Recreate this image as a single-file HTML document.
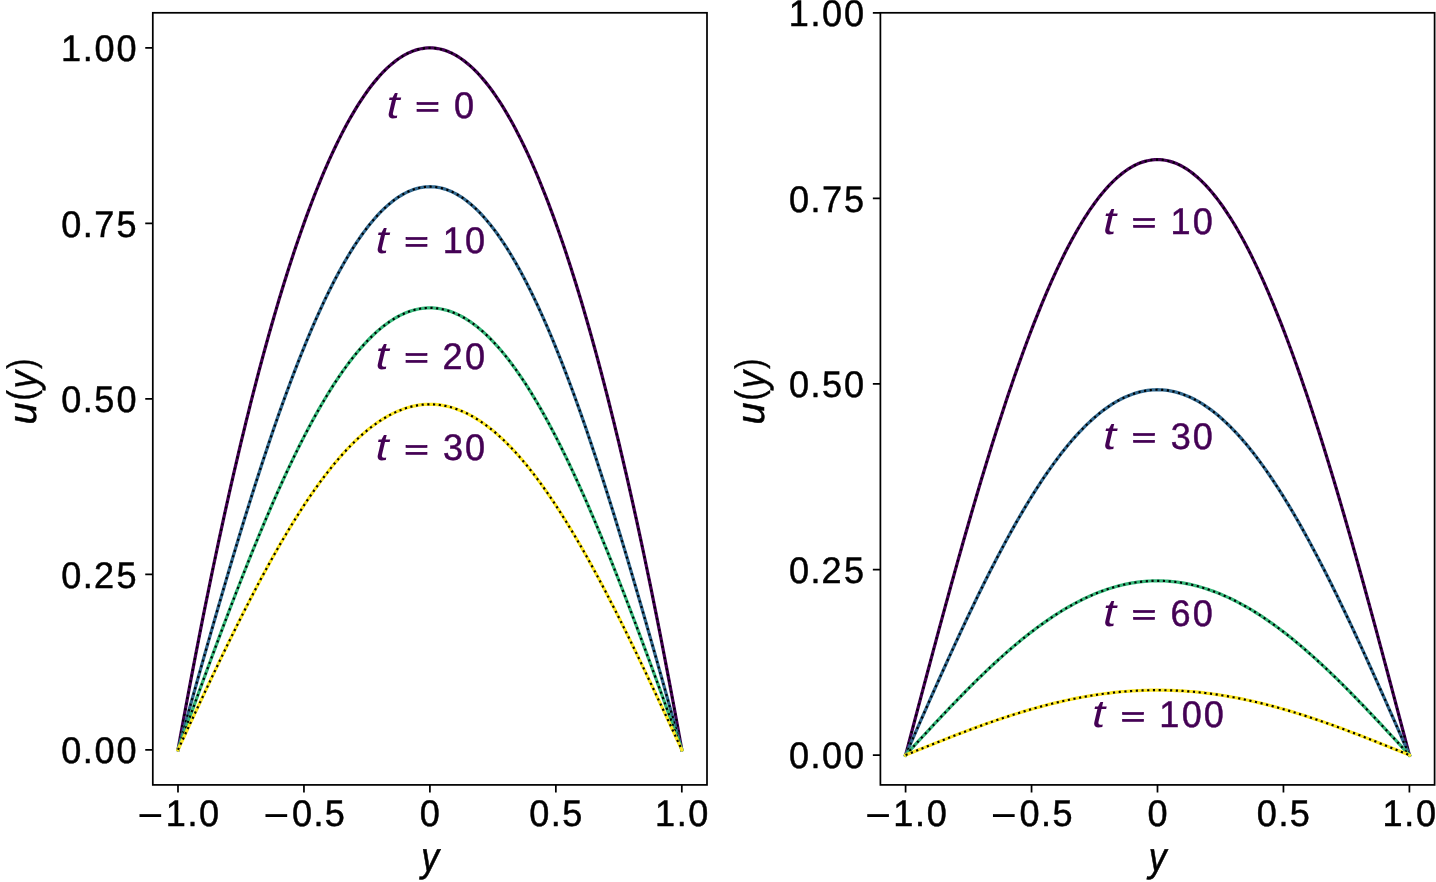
<!DOCTYPE html>
<html><head><meta charset="utf-8"><title>u(y) profiles</title>
<style>html,body{margin:0;padding:0;background:#fff;}svg{display:block;will-change:transform;}text{font-family:"Liberation Sans",sans-serif;}</style>
</head><body>
<svg width="1436" height="882" viewBox="0 0 1436 882">
<rect width="1436" height="882" fill="#fff"/>
<defs><clipPath id="c0"><rect x="152.8" y="12.8" width="554.2" height="772.1"/></clipPath><path id="p0_0" d="M177.99 749.8 180.51 735.84 183.03 722.01 185.55 708.32 188.07 694.77 190.59 681.37 193.11 668.1 195.62 654.98 198.14 641.99 200.66 629.15 203.18 616.44 205.7 603.88 208.22 591.45 210.74 579.17 213.26 567.03 215.78 555.02 218.3 543.16 220.82 531.44 223.33 519.86 225.85 508.42 228.37 497.12 230.89 485.96 233.41 474.94 235.93 464.06 238.45 453.32 240.97 442.72 243.49 432.26 246.01 421.94 248.53 411.77 251.04 401.73 253.56 391.83 256.08 382.07 258.6 372.46 261.12 362.98 263.64 353.65 266.16 344.45 268.68 335.4 271.2 326.48 273.72 317.71 276.24 309.08 278.75 300.58 281.27 292.23 283.79 284.02 286.31 275.95 288.83 268.01 291.35 260.22 293.87 252.57 296.39 245.06 298.91 237.69 301.43 230.46 303.95 223.37 306.46 216.42 308.98 209.62 311.5 202.95 314.02 196.42 316.54 190.03 319.06 183.79 321.58 177.68 324.1 171.71 326.62 165.89 329.14 160.2 331.66 154.66 334.17 149.25 336.69 143.99 339.21 138.86 341.73 133.88 344.25 129.04 346.77 124.33 349.29 119.77 351.81 115.35 354.33 111.07 356.85 106.93 359.37 102.93 361.88 99.06 364.4 95.34 366.92 91.76 369.44 88.33 371.96 85.03 374.48 81.87 377 78.85 379.52 75.97 382.04 73.23 384.56 70.64 387.08 68.18 389.59 65.86 392.11 63.69 394.63 61.65 397.15 59.76 399.67 58 402.19 56.39 404.71 54.91 407.23 53.58 409.75 52.39 412.27 51.33 414.79 50.42 417.3 49.65 419.82 49.02 422.34 48.53 424.86 48.18 427.38 47.97 429.9 47.9 432.42 47.97 434.94 48.18 437.46 48.53 439.98 49.02 442.5 49.65 445.01 50.42 447.53 51.33 450.05 52.39 452.57 53.58 455.09 54.91 457.61 56.39 460.13 58 462.65 59.76 465.17 61.65 467.69 63.69 470.21 65.86 472.72 68.18 475.24 70.64 477.76 73.23 480.28 75.97 482.8 78.85 485.32 81.87 487.84 85.03 490.36 88.33 492.88 91.76 495.4 95.34 497.92 99.06 500.43 102.93 502.95 106.93 505.47 111.07 507.99 115.35 510.51 119.77 513.03 124.33 515.55 129.04 518.07 133.88 520.59 138.86 523.11 143.99 525.63 149.25 528.14 154.66 530.66 160.2 533.18 165.89 535.7 171.71 538.22 177.68 540.74 183.79 543.26 190.03 545.78 196.42 548.3 202.95 550.82 209.62 553.34 216.42 555.85 223.37 558.37 230.46 560.89 237.69 563.41 245.06 565.93 252.57 568.45 260.22 570.97 268.01 573.49 275.95 576.01 284.02 578.53 292.23 581.05 300.58 583.56 309.08 586.08 317.71 588.6 326.48 591.12 335.4 593.64 344.45 596.16 353.65 598.68 362.98 601.2 372.46 603.72 382.07 606.24 391.83 608.76 401.73 611.27 411.77 613.79 421.94 616.31 432.26 618.83 442.72 621.35 453.32 623.87 464.06 626.39 474.94 628.91 485.96 631.43 497.12 633.95 508.42 636.47 519.86 638.98 531.44 641.5 543.16 644.02 555.02 646.54 567.03 649.06 579.17 651.58 591.45 654.1 603.88 656.62 616.44 659.14 629.15 661.66 641.99 664.18 654.98 666.69 668.1 669.21 681.37 671.73 694.77 674.25 708.32 676.77 722.01 679.29 735.84 681.81 749.8"/><path id="p0_1" d="M177.99 749.8 180.51 740.78 183.03 731.75 185.55 722.73 188.07 713.72 190.59 704.71 193.11 695.72 195.62 686.74 198.14 677.79 200.66 668.85 203.18 659.93 205.7 651.04 208.22 642.17 210.74 633.34 213.26 624.54 215.78 615.77 218.3 607.04 220.82 598.35 223.33 589.7 225.85 581.09 228.37 572.53 230.89 564.02 233.41 555.56 235.93 547.15 238.45 538.8 240.97 530.5 243.49 522.26 246.01 514.09 248.53 505.98 251.04 497.93 253.56 489.96 256.08 482.05 258.6 474.21 261.12 466.45 263.64 458.77 266.16 451.16 268.68 443.63 271.2 436.18 273.72 428.82 276.24 421.54 278.75 414.34 281.27 407.24 283.79 400.22 286.31 393.3 288.83 386.47 291.35 379.73 293.87 373.09 296.39 366.55 298.91 360.11 301.43 353.77 303.95 347.53 306.46 341.39 308.98 335.36 311.5 329.43 314.02 323.61 316.54 317.9 319.06 312.3 321.58 306.8 324.1 301.43 326.62 296.16 329.14 291.01 331.66 285.97 334.17 281.05 336.69 276.24 339.21 271.55 341.73 266.99 344.25 262.54 346.77 258.21 349.29 254 351.81 249.91 354.33 245.95 356.85 242.11 359.37 238.4 361.88 234.8 364.4 231.34 366.92 228 369.44 224.79 371.96 221.7 374.48 218.74 377 215.91 379.52 213.21 382.04 210.64 384.56 208.19 387.08 205.88 389.59 203.7 392.11 201.64 394.63 199.72 397.15 197.93 399.67 196.27 402.19 194.75 404.71 193.35 407.23 192.09 409.75 190.96 412.27 189.96 414.79 189.09 417.3 188.36 419.82 187.76 422.34 187.3 424.86 186.96 427.38 186.76 429.9 186.7 432.42 186.76 434.94 186.96 437.46 187.3 439.98 187.76 442.5 188.36 445.01 189.09 447.53 189.96 450.05 190.96 452.57 192.09 455.09 193.35 457.61 194.75 460.13 196.27 462.65 197.93 465.17 199.72 467.69 201.64 470.21 203.7 472.72 205.88 475.24 208.19 477.76 210.64 480.28 213.21 482.8 215.91 485.32 218.74 487.84 221.7 490.36 224.79 492.88 228 495.4 231.34 497.92 234.8 500.43 238.4 502.95 242.11 505.47 245.95 507.99 249.91 510.51 254 513.03 258.21 515.55 262.54 518.07 266.99 520.59 271.55 523.11 276.24 525.63 281.05 528.14 285.97 530.66 291.01 533.18 296.16 535.7 301.43 538.22 306.8 540.74 312.3 543.26 317.9 545.78 323.61 548.3 329.43 550.82 335.36 553.34 341.39 555.85 347.53 558.37 353.77 560.89 360.11 563.41 366.55 565.93 373.09 568.45 379.73 570.97 386.47 573.49 393.3 576.01 400.22 578.53 407.24 581.05 414.34 583.56 421.54 586.08 428.82 588.6 436.18 591.12 443.63 593.64 451.16 596.16 458.77 598.68 466.45 601.2 474.21 603.72 482.05 606.24 489.96 608.76 497.93 611.27 505.98 613.79 514.09 616.31 522.26 618.83 530.5 621.35 538.8 623.87 547.15 626.39 555.56 628.91 564.02 631.43 572.53 633.95 581.09 636.47 589.7 638.98 598.35 641.5 607.04 644.02 615.77 646.54 624.54 649.06 633.34 651.58 642.17 654.1 651.04 656.62 659.93 659.14 668.85 661.66 677.79 664.18 686.74 666.69 695.72 669.21 704.71 671.73 713.72 674.25 722.73 676.77 731.75 679.29 740.78 681.81 749.8"/><path id="p0_2" d="M177.99 749.8 180.51 742.84 183.03 735.88 185.55 728.93 188.07 721.98 190.59 715.03 193.11 708.1 195.62 701.17 198.14 694.26 200.66 687.36 203.18 680.48 205.7 673.61 208.22 666.77 210.74 659.94 213.26 653.14 215.78 646.36 218.3 639.61 220.82 632.88 223.33 626.18 225.85 619.52 228.37 612.89 230.89 606.29 233.41 599.73 235.93 593.2 238.45 586.72 240.97 580.27 243.49 573.87 246.01 567.51 248.53 561.2 251.04 554.93 253.56 548.72 256.08 542.55 258.6 536.43 261.12 530.37 263.64 524.37 266.16 518.42 268.68 512.52 271.2 506.69 273.72 500.92 276.24 495.2 278.75 489.56 281.27 483.97 283.79 478.46 286.31 473.01 288.83 467.63 291.35 462.32 293.87 457.08 296.39 451.91 298.91 446.82 301.43 441.81 303.95 436.86 306.46 432 308.98 427.22 311.5 422.51 314.02 417.89 316.54 413.35 319.06 408.89 321.58 404.52 324.1 400.23 326.62 396.03 329.14 391.92 331.66 387.9 334.17 383.96 336.69 380.12 339.21 376.36 341.73 372.7 344.25 369.13 346.77 365.66 349.29 362.28 351.81 359 354.33 355.81 356.85 352.72 359.37 349.73 361.88 346.83 364.4 344.04 366.92 341.34 369.44 338.75 371.96 336.25 374.48 333.86 377 331.57 379.52 329.39 382.04 327.3 384.56 325.33 387.08 323.45 389.59 321.68 392.11 320.02 394.63 318.46 397.15 317 399.67 315.66 402.19 314.42 404.71 313.28 407.23 312.26 409.75 311.34 412.27 310.53 414.79 309.82 417.3 309.23 419.82 308.74 422.34 308.36 424.86 308.09 427.38 307.93 429.9 307.87 432.42 307.93 434.94 308.09 437.46 308.36 439.98 308.74 442.5 309.23 445.01 309.82 447.53 310.53 450.05 311.34 452.57 312.26 455.09 313.28 457.61 314.42 460.13 315.66 462.65 317 465.17 318.46 467.69 320.02 470.21 321.68 472.72 323.45 475.24 325.33 477.76 327.3 480.28 329.39 482.8 331.57 485.32 333.86 487.84 336.25 490.36 338.75 492.88 341.34 495.4 344.04 497.92 346.83 500.43 349.73 502.95 352.72 505.47 355.81 507.99 359 510.51 362.28 513.03 365.66 515.55 369.13 518.07 372.7 520.59 376.36 523.11 380.12 525.63 383.96 528.14 387.9 530.66 391.92 533.18 396.03 535.7 400.23 538.22 404.52 540.74 408.89 543.26 413.35 545.78 417.89 548.3 422.51 550.82 427.22 553.34 432 555.85 436.86 558.37 441.81 560.89 446.82 563.41 451.91 565.93 457.08 568.45 462.32 570.97 467.63 573.49 473.01 576.01 478.46 578.53 483.97 581.05 489.56 583.56 495.2 586.08 500.92 588.6 506.69 591.12 512.52 593.64 518.42 596.16 524.37 598.68 530.37 601.2 536.43 603.72 542.55 606.24 548.72 608.76 554.93 611.27 561.2 613.79 567.51 616.31 573.87 618.83 580.27 621.35 586.72 623.87 593.2 626.39 599.73 628.91 606.29 631.43 612.89 633.95 619.52 636.47 626.18 638.98 632.88 641.5 639.61 644.02 646.36 646.54 653.14 649.06 659.94 651.58 666.77 654.1 673.61 656.62 680.48 659.14 687.36 661.66 694.26 664.18 701.17 666.69 708.1 669.21 715.03 671.73 721.98 674.25 728.93 676.77 735.88 679.29 742.84 681.81 749.8"/><path id="p0_3" d="M177.99 749.8 180.51 744.38 183.03 738.95 185.55 733.52 188.07 728.1 190.59 722.69 193.11 717.28 195.62 711.88 198.14 706.48 200.66 701.1 203.18 695.73 205.7 690.38 208.22 685.04 210.74 679.71 213.26 674.4 215.78 669.12 218.3 663.85 220.82 658.6 223.33 653.37 225.85 648.17 228.37 643 230.89 637.85 233.41 632.73 235.93 627.63 238.45 622.57 240.97 617.54 243.49 612.54 246.01 607.57 248.53 602.64 251.04 597.75 253.56 592.9 256.08 588.08 258.6 583.3 261.12 578.57 263.64 573.87 266.16 569.22 268.68 564.62 271.2 560.06 273.72 555.54 276.24 551.08 278.75 546.66 281.27 542.3 283.79 537.98 286.31 533.72 288.83 529.51 291.35 525.36 293.87 521.26 296.39 517.22 298.91 513.23 301.43 509.31 303.95 505.44 306.46 501.63 308.98 497.89 311.5 494.21 314.02 490.59 316.54 487.03 319.06 483.54 321.58 480.11 324.1 476.75 326.62 473.46 329.14 470.24 331.66 467.09 334.17 464 336.69 460.99 339.21 458.04 341.73 455.17 344.25 452.38 346.77 449.65 349.29 447 351.81 444.43 354.33 441.92 356.85 439.5 359.37 437.15 361.88 434.88 364.4 432.69 366.92 430.57 369.44 428.54 371.96 426.58 374.48 424.7 377 422.91 379.52 421.19 382.04 419.55 384.56 418 387.08 416.53 389.59 415.14 392.11 413.83 394.63 412.61 397.15 411.46 399.67 410.41 402.19 409.43 404.71 408.54 407.23 407.74 409.75 407.01 412.27 406.38 414.79 405.82 417.3 405.36 419.82 404.97 422.34 404.67 424.86 404.46 427.38 404.33 429.9 404.29 432.42 404.33 434.94 404.46 437.46 404.67 439.98 404.97 442.5 405.36 445.01 405.82 447.53 406.38 450.05 407.01 452.57 407.74 455.09 408.54 457.61 409.43 460.13 410.41 462.65 411.46 465.17 412.61 467.69 413.83 470.21 415.14 472.72 416.53 475.24 418 477.76 419.55 480.28 421.19 482.8 422.91 485.32 424.7 487.84 426.58 490.36 428.54 492.88 430.57 495.4 432.69 497.92 434.88 500.43 437.15 502.95 439.5 505.47 441.92 507.99 444.43 510.51 447 513.03 449.65 515.55 452.38 518.07 455.17 520.59 458.04 523.11 460.99 525.63 464 528.14 467.09 530.66 470.24 533.18 473.46 535.7 476.75 538.22 480.11 540.74 483.54 543.26 487.03 545.78 490.59 548.3 494.21 550.82 497.89 553.34 501.63 555.85 505.44 558.37 509.31 560.89 513.23 563.41 517.22 565.93 521.26 568.45 525.36 570.97 529.51 573.49 533.72 576.01 537.98 578.53 542.3 581.05 546.66 583.56 551.08 586.08 555.54 588.6 560.06 591.12 564.62 593.64 569.22 596.16 573.87 598.68 578.57 601.2 583.3 603.72 588.08 606.24 592.9 608.76 597.75 611.27 602.64 613.79 607.57 616.31 612.54 618.83 617.54 621.35 622.57 623.87 627.63 626.39 632.73 628.91 637.85 631.43 643 633.95 648.17 636.47 653.37 638.98 658.6 641.5 663.85 644.02 669.12 646.54 674.4 649.06 679.71 651.58 685.04 654.1 690.38 656.62 695.73 659.14 701.1 661.66 706.48 664.18 711.88 666.69 717.28 669.21 722.69 671.73 728.1 674.25 733.52 676.77 738.95 679.29 744.38 681.81 749.8"/><clipPath id="c1"><rect x="880.4" y="12.8" width="554.2" height="772.1"/></clipPath><path id="p1_0" d="M905.59 755.12 908.11 745.57 910.63 736.03 913.15 726.49 915.67 716.96 918.19 707.43 920.71 697.93 923.22 688.43 925.74 678.96 928.26 669.5 930.78 660.07 933.3 650.67 935.82 641.3 938.34 631.95 940.86 622.64 943.38 613.37 945.9 604.14 948.42 594.95 950.93 585.8 953.45 576.7 955.97 567.64 958.49 558.64 961.01 549.69 963.53 540.8 966.05 531.97 968.57 523.19 971.09 514.48 973.61 505.84 976.13 497.26 978.64 488.75 981.16 480.31 983.68 471.95 986.2 463.67 988.72 455.46 991.24 447.33 993.76 439.28 996.28 431.32 998.8 423.44 1001.32 415.65 1003.84 407.95 1006.35 400.35 1008.87 392.83 1011.39 385.41 1013.91 378.09 1016.43 370.87 1018.95 363.74 1021.47 356.72 1023.99 349.8 1026.51 342.99 1029.03 336.28 1031.55 329.68 1034.06 323.19 1036.58 316.81 1039.1 310.54 1041.62 304.39 1044.14 298.35 1046.66 292.42 1049.18 286.62 1051.7 280.93 1054.22 275.36 1056.74 269.91 1059.26 264.58 1061.77 259.38 1064.29 254.29 1066.81 249.34 1069.33 244.5 1071.85 239.8 1074.37 235.22 1076.89 230.77 1079.41 226.45 1081.93 222.26 1084.45 218.2 1086.97 214.27 1089.48 210.47 1092 206.81 1094.52 203.27 1097.04 199.88 1099.56 196.61 1102.08 193.48 1104.6 190.49 1107.12 187.63 1109.64 184.91 1112.16 182.33 1114.68 179.88 1117.19 177.57 1119.71 175.4 1122.23 173.37 1124.75 171.48 1127.27 169.72 1129.79 168.11 1132.31 166.63 1134.83 165.29 1137.35 164.1 1139.87 163.04 1142.39 162.13 1144.9 161.35 1147.42 160.72 1149.94 160.23 1152.46 159.87 1154.98 159.66 1157.5 159.59 1160.02 159.66 1162.54 159.87 1165.06 160.23 1167.58 160.72 1170.1 161.35 1172.61 162.13 1175.13 163.04 1177.65 164.1 1180.17 165.29 1182.69 166.63 1185.21 168.11 1187.73 169.72 1190.25 171.48 1192.77 173.37 1195.29 175.4 1197.81 177.57 1200.32 179.88 1202.84 182.33 1205.36 184.91 1207.88 187.63 1210.4 190.49 1212.92 193.48 1215.44 196.61 1217.96 199.88 1220.48 203.27 1223 206.81 1225.52 210.47 1228.03 214.27 1230.55 218.2 1233.07 222.26 1235.59 226.45 1238.11 230.77 1240.63 235.22 1243.15 239.8 1245.67 244.5 1248.19 249.34 1250.71 254.29 1253.23 259.38 1255.74 264.58 1258.26 269.91 1260.78 275.36 1263.3 280.93 1265.82 286.62 1268.34 292.42 1270.86 298.35 1273.38 304.39 1275.9 310.54 1278.42 316.81 1280.94 323.19 1283.45 329.68 1285.97 336.28 1288.49 342.99 1291.01 349.8 1293.53 356.72 1296.05 363.74 1298.57 370.87 1301.09 378.09 1303.61 385.41 1306.13 392.83 1308.65 400.35 1311.16 407.95 1313.68 415.65 1316.2 423.44 1318.72 431.32 1321.24 439.28 1323.76 447.33 1326.28 455.46 1328.8 463.67 1331.32 471.95 1333.84 480.31 1336.36 488.75 1338.87 497.26 1341.39 505.84 1343.91 514.48 1346.43 523.19 1348.95 531.97 1351.47 540.8 1353.99 549.69 1356.51 558.64 1359.03 567.64 1361.55 576.7 1364.07 585.8 1366.58 594.95 1369.1 604.14 1371.62 613.37 1374.14 622.64 1376.66 631.95 1379.18 641.3 1381.7 650.67 1384.22 660.07 1386.74 669.5 1389.26 678.96 1391.78 688.43 1394.29 697.93 1396.81 707.43 1399.33 716.96 1401.85 726.49 1404.37 736.03 1406.89 745.57 1409.41 755.12"/><path id="p1_1" d="M905.59 755.12 908.11 749.38 910.63 743.64 913.15 737.9 915.67 732.17 918.19 726.44 920.71 720.72 923.22 715.01 925.74 709.31 928.26 703.62 930.78 697.94 933.3 692.28 935.82 686.63 938.34 681 940.86 675.38 943.38 669.79 945.9 664.22 948.42 658.67 950.93 653.14 953.45 647.64 955.97 642.17 958.49 636.72 961.01 631.3 963.53 625.92 966.05 620.56 968.57 615.24 971.09 609.95 973.61 604.7 976.13 599.49 978.64 594.32 981.16 589.18 983.68 584.09 986.2 579.03 988.72 574.03 991.24 569.06 993.76 564.14 996.28 559.27 998.8 554.45 1001.32 549.68 1003.84 544.96 1006.35 540.29 1008.87 535.67 1011.39 531.11 1013.91 526.6 1016.43 522.15 1018.95 517.76 1021.47 513.42 1023.99 509.15 1026.51 504.93 1029.03 500.78 1031.55 496.69 1034.06 492.66 1036.58 488.7 1039.1 484.81 1041.62 480.98 1044.14 477.22 1046.66 473.53 1049.18 469.9 1051.7 466.35 1054.22 462.87 1056.74 459.46 1059.26 456.13 1061.77 452.86 1064.29 449.68 1066.81 446.56 1069.33 443.53 1071.85 440.57 1074.37 437.69 1076.89 434.89 1079.41 432.16 1081.93 429.52 1084.45 426.95 1086.97 424.47 1089.48 422.07 1092 419.75 1094.52 417.51 1097.04 415.36 1099.56 413.29 1102.08 411.3 1104.6 409.4 1107.12 407.59 1109.64 405.86 1112.16 404.21 1114.68 402.66 1117.19 401.19 1119.71 399.81 1122.23 398.51 1124.75 397.3 1127.27 396.18 1129.79 395.15 1132.31 394.21 1134.83 393.36 1137.35 392.6 1139.87 391.92 1142.39 391.34 1144.9 390.84 1147.42 390.44 1149.94 390.12 1152.46 389.9 1154.98 389.76 1157.5 389.72 1160.02 389.76 1162.54 389.9 1165.06 390.12 1167.58 390.44 1170.1 390.84 1172.61 391.34 1175.13 391.92 1177.65 392.6 1180.17 393.36 1182.69 394.21 1185.21 395.15 1187.73 396.18 1190.25 397.3 1192.77 398.51 1195.29 399.81 1197.81 401.19 1200.32 402.66 1202.84 404.21 1205.36 405.86 1207.88 407.59 1210.4 409.4 1212.92 411.3 1215.44 413.29 1217.96 415.36 1220.48 417.51 1223 419.75 1225.52 422.07 1228.03 424.47 1230.55 426.95 1233.07 429.52 1235.59 432.16 1238.11 434.89 1240.63 437.69 1243.15 440.57 1245.67 443.53 1248.19 446.56 1250.71 449.68 1253.23 452.86 1255.74 456.13 1258.26 459.46 1260.78 462.87 1263.3 466.35 1265.82 469.9 1268.34 473.53 1270.86 477.22 1273.38 480.98 1275.9 484.81 1278.42 488.7 1280.94 492.66 1283.45 496.69 1285.97 500.78 1288.49 504.93 1291.01 509.15 1293.53 513.42 1296.05 517.76 1298.57 522.15 1301.09 526.6 1303.61 531.11 1306.13 535.67 1308.65 540.29 1311.16 544.96 1313.68 549.68 1316.2 554.45 1318.72 559.27 1321.24 564.14 1323.76 569.06 1326.28 574.03 1328.8 579.03 1331.32 584.09 1333.84 589.18 1336.36 594.32 1338.87 599.49 1341.39 604.7 1343.91 609.95 1346.43 615.24 1348.95 620.56 1351.47 625.92 1353.99 631.3 1356.51 636.72 1359.03 642.17 1361.55 647.64 1364.07 653.14 1366.58 658.67 1369.1 664.22 1371.62 669.79 1374.14 675.38 1376.66 681 1379.18 686.63 1381.7 692.28 1384.22 697.94 1386.74 703.62 1389.26 709.31 1391.78 715.01 1394.29 720.72 1396.81 726.44 1399.33 732.17 1401.85 737.9 1404.37 743.64 1406.89 749.38 1409.41 755.12"/><path id="p1_2" d="M905.59 755.12 908.11 752.39 910.63 749.65 913.15 746.91 915.67 744.18 918.19 741.45 920.71 738.72 923.22 735.99 925.74 733.28 928.26 730.56 930.78 727.85 933.3 725.15 935.82 722.46 938.34 719.77 940.86 717.1 943.38 714.43 945.9 711.77 948.42 709.13 950.93 706.49 953.45 703.87 955.97 701.26 958.49 698.66 961.01 696.07 963.53 693.51 966.05 690.95 968.57 688.41 971.09 685.89 973.61 683.39 976.13 680.9 978.64 678.43 981.16 675.98 983.68 673.55 986.2 671.14 988.72 668.76 991.24 666.39 993.76 664.04 996.28 661.72 998.8 659.42 1001.32 657.14 1003.84 654.89 1006.35 652.66 1008.87 650.46 1011.39 648.28 1013.91 646.13 1016.43 644.01 1018.95 641.91 1021.47 639.84 1023.99 637.8 1026.51 635.79 1029.03 633.81 1031.55 631.86 1034.06 629.94 1036.58 628.05 1039.1 626.19 1041.62 624.36 1044.14 622.57 1046.66 620.81 1049.18 619.08 1051.7 617.38 1054.22 615.72 1056.74 614.1 1059.26 612.5 1061.77 610.95 1064.29 609.43 1066.81 607.94 1069.33 606.49 1071.85 605.08 1074.37 603.7 1076.89 602.37 1079.41 601.07 1081.93 599.8 1084.45 598.58 1086.97 597.39 1089.48 596.25 1092 595.14 1094.52 594.07 1097.04 593.05 1099.56 592.06 1102.08 591.11 1104.6 590.2 1107.12 589.34 1109.64 588.51 1112.16 587.73 1114.68 586.98 1117.19 586.28 1119.71 585.62 1122.23 585 1124.75 584.43 1127.27 583.89 1129.79 583.4 1132.31 582.95 1134.83 582.54 1137.35 582.18 1139.87 581.86 1142.39 581.58 1144.9 581.34 1147.42 581.15 1149.94 581 1152.46 580.89 1154.98 580.83 1157.5 580.8 1160.02 580.83 1162.54 580.89 1165.06 581 1167.58 581.15 1170.1 581.34 1172.61 581.58 1175.13 581.86 1177.65 582.18 1180.17 582.54 1182.69 582.95 1185.21 583.4 1187.73 583.89 1190.25 584.43 1192.77 585 1195.29 585.62 1197.81 586.28 1200.32 586.98 1202.84 587.73 1205.36 588.51 1207.88 589.34 1210.4 590.2 1212.92 591.11 1215.44 592.06 1217.96 593.05 1220.48 594.07 1223 595.14 1225.52 596.25 1228.03 597.39 1230.55 598.58 1233.07 599.8 1235.59 601.07 1238.11 602.37 1240.63 603.7 1243.15 605.08 1245.67 606.49 1248.19 607.94 1250.71 609.43 1253.23 610.95 1255.74 612.5 1258.26 614.1 1260.78 615.72 1263.3 617.38 1265.82 619.08 1268.34 620.81 1270.86 622.57 1273.38 624.36 1275.9 626.19 1278.42 628.05 1280.94 629.94 1283.45 631.86 1285.97 633.81 1288.49 635.79 1291.01 637.8 1293.53 639.84 1296.05 641.91 1298.57 644.01 1301.09 646.13 1303.61 648.28 1306.13 650.46 1308.65 652.66 1311.16 654.89 1313.68 657.14 1316.2 659.42 1318.72 661.72 1321.24 664.04 1323.76 666.39 1326.28 668.76 1328.8 671.14 1331.32 673.55 1333.84 675.98 1336.36 678.43 1338.87 680.9 1341.39 683.39 1343.91 685.89 1346.43 688.41 1348.95 690.95 1351.47 693.51 1353.99 696.07 1356.51 698.66 1359.03 701.26 1361.55 703.87 1364.07 706.49 1366.58 709.13 1369.1 711.77 1371.62 714.43 1374.14 717.1 1376.66 719.77 1379.18 722.46 1381.7 725.15 1384.22 727.85 1386.74 730.56 1389.26 733.28 1391.78 735.99 1394.29 738.72 1396.81 741.45 1399.33 744.18 1401.85 746.91 1404.37 749.65 1406.89 752.39 1409.41 755.12"/><path id="p1_3" d="M905.59 755.12 908.11 754.1 910.63 753.08 913.15 752.06 915.67 751.04 918.19 750.03 920.71 749.01 923.22 747.99 925.74 746.98 928.26 745.97 930.78 744.96 933.3 743.95 935.82 742.95 938.34 741.95 940.86 740.95 943.38 739.96 945.9 738.97 948.42 737.98 950.93 737 953.45 736.02 955.97 735.05 958.49 734.08 961.01 733.12 963.53 732.16 966.05 731.21 968.57 730.26 971.09 729.32 973.61 728.39 976.13 727.46 978.64 726.54 981.16 725.63 983.68 724.72 986.2 723.82 988.72 722.93 991.24 722.05 993.76 721.18 996.28 720.31 998.8 719.45 1001.32 718.6 1003.84 717.77 1006.35 716.93 1008.87 716.11 1011.39 715.3 1013.91 714.5 1016.43 713.71 1018.95 712.93 1021.47 712.16 1023.99 711.4 1026.51 710.65 1029.03 709.91 1031.55 709.18 1034.06 708.47 1036.58 707.76 1039.1 707.07 1041.62 706.39 1044.14 705.72 1046.66 705.06 1049.18 704.42 1051.7 703.79 1054.22 703.17 1056.74 702.56 1059.26 701.97 1061.77 701.39 1064.29 700.82 1066.81 700.27 1069.33 699.73 1071.85 699.2 1074.37 698.69 1076.89 698.19 1079.41 697.7 1081.93 697.23 1084.45 696.78 1086.97 696.34 1089.48 695.91 1092 695.5 1094.52 695.1 1097.04 694.72 1099.56 694.35 1102.08 693.99 1104.6 693.66 1107.12 693.33 1109.64 693.03 1112.16 692.73 1114.68 692.46 1117.19 692.19 1119.71 691.95 1122.23 691.72 1124.75 691.5 1127.27 691.3 1129.79 691.12 1132.31 690.95 1134.83 690.8 1137.35 690.67 1139.87 690.55 1142.39 690.44 1144.9 690.35 1147.42 690.28 1149.94 690.23 1152.46 690.19 1154.98 690.16 1157.5 690.15 1160.02 690.16 1162.54 690.19 1165.06 690.23 1167.58 690.28 1170.1 690.35 1172.61 690.44 1175.13 690.55 1177.65 690.67 1180.17 690.8 1182.69 690.95 1185.21 691.12 1187.73 691.3 1190.25 691.5 1192.77 691.72 1195.29 691.95 1197.81 692.19 1200.32 692.46 1202.84 692.73 1205.36 693.03 1207.88 693.33 1210.4 693.66 1212.92 693.99 1215.44 694.35 1217.96 694.72 1220.48 695.1 1223 695.5 1225.52 695.91 1228.03 696.34 1230.55 696.78 1233.07 697.23 1235.59 697.7 1238.11 698.19 1240.63 698.69 1243.15 699.2 1245.67 699.73 1248.19 700.27 1250.71 700.82 1253.23 701.39 1255.74 701.97 1258.26 702.56 1260.78 703.17 1263.3 703.79 1265.82 704.42 1268.34 705.06 1270.86 705.72 1273.38 706.39 1275.9 707.07 1278.42 707.76 1280.94 708.47 1283.45 709.18 1285.97 709.91 1288.49 710.65 1291.01 711.4 1293.53 712.16 1296.05 712.93 1298.57 713.71 1301.09 714.5 1303.61 715.3 1306.13 716.11 1308.65 716.93 1311.16 717.77 1313.68 718.6 1316.2 719.45 1318.72 720.31 1321.24 721.18 1323.76 722.05 1326.28 722.93 1328.8 723.82 1331.32 724.72 1333.84 725.63 1336.36 726.54 1338.87 727.46 1341.39 728.39 1343.91 729.32 1346.43 730.26 1348.95 731.21 1351.47 732.16 1353.99 733.12 1356.51 734.08 1359.03 735.05 1361.55 736.02 1364.07 737 1366.58 737.98 1369.1 738.97 1371.62 739.96 1374.14 740.95 1376.66 741.95 1379.18 742.95 1381.7 743.95 1384.22 744.96 1386.74 745.97 1389.26 746.98 1391.78 747.99 1394.29 749.01 1396.81 750.03 1399.33 751.04 1401.85 752.06 1404.37 753.08 1406.89 754.1 1409.41 755.12"/></defs>
<g clip-path="url(#c0)" fill="none" stroke-linejoin="round">
<use href="#p0_0" stroke="#440154" stroke-width="3.24" stroke-linecap="square"/>
<use href="#p0_0" stroke="#000" stroke-width="2.16" stroke-dasharray="2.158 3.561"/>
<use href="#p0_1" stroke="#31688e" stroke-width="3.24" stroke-linecap="square"/>
<use href="#p0_1" stroke="#000" stroke-width="2.16" stroke-dasharray="2.158 3.561"/>
<use href="#p0_2" stroke="#35b779" stroke-width="3.24" stroke-linecap="square"/>
<use href="#p0_2" stroke="#000" stroke-width="2.16" stroke-dasharray="2.158 3.561"/>
<use href="#p0_3" stroke="#fde725" stroke-width="3.24" stroke-linecap="square"/>
<use href="#p0_3" stroke="#000" stroke-width="2.16" stroke-dasharray="2.158 3.561"/>
</g>
<g stroke="#000" stroke-width="1.73" fill="none">
<rect x="152.8" y="12.8" width="554.2" height="772.1" stroke-linejoin="miter"/>
<path d="M177.99 784.9v7.55M303.95 784.9v7.55M429.9 784.9v7.55M555.85 784.9v7.55M681.81 784.9v7.55M152.8 749.8h-7.55M152.8 574.33h-7.55M152.8 398.85h-7.55M152.8 223.37h-7.55M152.8 47.9h-7.55"/>
</g>
<g clip-path="url(#c1)" fill="none" stroke-linejoin="round">
<use href="#p1_0" stroke="#440154" stroke-width="3.24" stroke-linecap="square"/>
<use href="#p1_0" stroke="#000" stroke-width="2.16" stroke-dasharray="2.158 3.561"/>
<use href="#p1_1" stroke="#31688e" stroke-width="3.24" stroke-linecap="square"/>
<use href="#p1_1" stroke="#000" stroke-width="2.16" stroke-dasharray="2.158 3.561"/>
<use href="#p1_2" stroke="#35b779" stroke-width="3.24" stroke-linecap="square"/>
<use href="#p1_2" stroke="#000" stroke-width="2.16" stroke-dasharray="2.158 3.561"/>
<use href="#p1_3" stroke="#fde725" stroke-width="3.24" stroke-linecap="square"/>
<use href="#p1_3" stroke="#000" stroke-width="2.16" stroke-dasharray="2.158 3.561"/>
</g>
<g stroke="#000" stroke-width="1.73" fill="none">
<rect x="880.4" y="12.8" width="554.2" height="772.1" stroke-linejoin="miter"/>
<path d="M905.59 784.9v7.55M1031.55 784.9v7.55M1157.5 784.9v7.55M1283.45 784.9v7.55M1409.41 784.9v7.55M880.4 755.12h-7.55M880.4 569.54h-7.55M880.4 383.96h-7.55M880.4 198.38h-7.55M880.4 12.8h-7.55"/>
</g>
<g font-family="'Liberation Sans', sans-serif" text-rendering="geometricPrecision">
<text transform="translate(137.31 829.03) scale(1.1065 1)" font-size="40.43">−</text>
<text transform="translate(165.75 826.47) scale(0.9740 1)" x="0 22.34 34.2" font-size="37.06" stroke="#000" stroke-width="0.5">1.0</text>
<text transform="translate(263.26 829.03) scale(1.1065 1)" font-size="40.43">−</text>
<text transform="translate(291.88 826.47) scale(0.9740 1)" x="0 22.15 33.87" font-size="37.06" stroke="#000" stroke-width="0.5">0.5</text>
<text transform="translate(419.85 826.47) scale(0.9740 1)" x="0" font-size="37.06" stroke="#000" stroke-width="0.5">0</text>
<text transform="translate(529.24 826.47) scale(0.9740 1)" x="0 22.15 33.87" font-size="37.06" stroke="#000" stroke-width="0.5">0.5</text>
<text transform="translate(655.02 826.47) scale(0.9740 1)" x="0 22.34 34.2" font-size="37.06" stroke="#000" stroke-width="0.5">1.0</text>
<text transform="translate(61.3 763) scale(0.9740 1)" x="0 22.15 34.01 56.69" font-size="37.06" stroke="#000" stroke-width="0.5">0.00</text>
<text transform="translate(61.3 587.52) scale(0.9740 1)" x="0 22.15 33.54 56.56" font-size="37.06" stroke="#000" stroke-width="0.5">0.25</text>
<text transform="translate(61.3 412.04) scale(0.9740 1)" x="0 22.15 33.87 56.69" font-size="37.06" stroke="#000" stroke-width="0.5">0.50</text>
<text transform="translate(61.3 236.56) scale(0.9740 1)" x="0 22.15 33.94 56.56" font-size="37.06" stroke="#000" stroke-width="0.5">0.75</text>
<text transform="translate(61.12 61.09) scale(0.9740 1)" x="0 22.34 34.2 56.88" font-size="37.06" stroke="#000" stroke-width="0.5">1.00</text>
<text transform="translate(864.91 829.03) scale(1.1065 1)" font-size="40.43">−</text>
<text transform="translate(893.35 826.47) scale(0.9740 1)" x="0 22.34 34.2" font-size="37.06" stroke="#000" stroke-width="0.5">1.0</text>
<text transform="translate(990.86 829.03) scale(1.1065 1)" font-size="40.43">−</text>
<text transform="translate(1019.48 826.47) scale(0.9740 1)" x="0 22.15 33.87" font-size="37.06" stroke="#000" stroke-width="0.5">0.5</text>
<text transform="translate(1147.45 826.47) scale(0.9740 1)" x="0" font-size="37.06" stroke="#000" stroke-width="0.5">0</text>
<text transform="translate(1256.84 826.47) scale(0.9740 1)" x="0 22.15 33.87" font-size="37.06" stroke="#000" stroke-width="0.5">0.5</text>
<text transform="translate(1382.62 826.47) scale(0.9740 1)" x="0 22.34 34.2" font-size="37.06" stroke="#000" stroke-width="0.5">1.0</text>
<text transform="translate(788.9 768.32) scale(0.9740 1)" x="0 22.15 34.01 56.69" font-size="37.06" stroke="#000" stroke-width="0.5">0.00</text>
<text transform="translate(788.9 582.73) scale(0.9740 1)" x="0 22.15 33.54 56.56" font-size="37.06" stroke="#000" stroke-width="0.5">0.25</text>
<text transform="translate(788.9 397.15) scale(0.9740 1)" x="0 22.15 33.87 56.69" font-size="37.06" stroke="#000" stroke-width="0.5">0.50</text>
<text transform="translate(788.9 211.57) scale(0.9740 1)" x="0 22.15 33.94 56.56" font-size="37.06" stroke="#000" stroke-width="0.5">0.75</text>
<text transform="translate(788.72 25.99) scale(0.9740 1)" x="0 22.34 34.2 56.88" font-size="37.06" stroke="#000" stroke-width="0.5">1.00</text>
<text transform="translate(386.52 118) scale(1.2200 1)" font-size="38.67" font-style="italic" fill="#440154">t</text>
<text transform="translate(415.21 116.45) scale(1.5168 1)" font-size="27.69" fill="#440154" stroke="#440154" stroke-width="0.88">=</text>
<text transform="translate(454.05 118.2) scale(0.9740 1)" x="0" font-size="37.06" fill="#440154" stroke="#440154" stroke-width="0.5">0</text>
<text transform="translate(375.48 253) scale(1.2200 1)" font-size="38.67" font-style="italic" fill="#440154">t</text>
<text transform="translate(404.16 251.15) scale(1.5168 1)" font-size="27.69" fill="#440154" stroke="#440154" stroke-width="0.88">=</text>
<text transform="translate(442.82 252.9) scale(0.9740 1)" x="0 22.87" font-size="37.06" fill="#440154" stroke="#440154" stroke-width="0.5">10</text>
<text transform="translate(375.48 369) scale(1.2200 1)" font-size="38.67" font-style="italic" fill="#440154">t</text>
<text transform="translate(404.16 366.85) scale(1.5168 1)" font-size="27.69" fill="#440154" stroke="#440154" stroke-width="0.88">=</text>
<text transform="translate(442.54 368.6) scale(0.9740 1)" x="0 23.15" font-size="37.06" fill="#440154" stroke="#440154" stroke-width="0.5">20</text>
<text transform="translate(375.48 460) scale(1.2200 1)" font-size="38.67" font-style="italic" fill="#440154">t</text>
<text transform="translate(404.16 458.65) scale(1.5168 1)" font-size="27.69" fill="#440154" stroke="#440154" stroke-width="0.88">=</text>
<text transform="translate(443.05 460.4) scale(0.9740 1)" x="0 22.63" font-size="37.06" fill="#440154" stroke="#440154" stroke-width="0.5">30</text>
<text transform="translate(1103.08 234) scale(1.2200 1)" font-size="38.67" font-style="italic" fill="#440154">t</text>
<text transform="translate(1131.76 232.05) scale(1.5168 1)" font-size="27.69" fill="#440154" stroke="#440154" stroke-width="0.88">=</text>
<text transform="translate(1170.42 233.8) scale(0.9740 1)" x="0 22.87" font-size="37.06" fill="#440154" stroke="#440154" stroke-width="0.5">10</text>
<text transform="translate(1103.08 449) scale(1.2200 1)" font-size="38.67" font-style="italic" fill="#440154">t</text>
<text transform="translate(1131.76 447.05) scale(1.5168 1)" font-size="27.69" fill="#440154" stroke="#440154" stroke-width="0.88">=</text>
<text transform="translate(1170.65 448.8) scale(0.9740 1)" x="0 22.63" font-size="37.06" fill="#440154" stroke="#440154" stroke-width="0.5">30</text>
<text transform="translate(1103.08 626) scale(1.2200 1)" font-size="38.67" font-style="italic" fill="#440154">t</text>
<text transform="translate(1131.76 623.75) scale(1.5168 1)" font-size="27.69" fill="#440154" stroke="#440154" stroke-width="0.88">=</text>
<text transform="translate(1170.6 625.5) scale(0.9740 1)" x="0 22.68" font-size="37.06" fill="#440154" stroke="#440154" stroke-width="0.5">60</text>
<text transform="translate(1092.03 727) scale(1.2200 1)" font-size="38.67" font-style="italic" fill="#440154">t</text>
<text transform="translate(1120.72 725.55) scale(1.5168 1)" font-size="27.69" fill="#440154" stroke="#440154" stroke-width="0.88">=</text>
<text transform="translate(1159.37 727.3) scale(0.9740 1)" x="0 22.87 45.55" font-size="37.06" fill="#440154" stroke="#440154" stroke-width="0.5">100</text>
<text transform="translate(421.26 871.13) scale(0.8569 1)" font-size="41.31" font-style="italic" stroke="#000" stroke-width="0.6">y</text>
<text transform="translate(36.38 424.41) rotate(-90) scale(1.0007 1)" font-size="39.43" font-style="italic" stroke="#000" stroke-width="0.5">u</text>
<text transform="translate(33.91 400.56) rotate(-90) scale(0.8035 1)" font-size="38.1" stroke="#000" stroke-width="0.6">(</text>
<text transform="translate(37.16 388.5) rotate(-90) scale(0.8568 1)" font-size="40.91" font-style="italic" stroke="#000" stroke-width="0.5">y</text>
<text transform="translate(33.91 368.74) rotate(-90) scale(0.7755 1)" font-size="38.1" stroke="#000" stroke-width="0.6">)</text>
<text transform="translate(1148.86 871.13) scale(0.8569 1)" font-size="41.31" font-style="italic" stroke="#000" stroke-width="0.6">y</text>
<text transform="translate(763.98 424.41) rotate(-90) scale(1.0007 1)" font-size="39.43" font-style="italic" stroke="#000" stroke-width="0.5">u</text>
<text transform="translate(761.51 400.56) rotate(-90) scale(0.8035 1)" font-size="38.1" stroke="#000" stroke-width="0.6">(</text>
<text transform="translate(764.76 388.5) rotate(-90) scale(0.8568 1)" font-size="40.91" font-style="italic" stroke="#000" stroke-width="0.5">y</text>
<text transform="translate(761.51 368.74) rotate(-90) scale(0.7755 1)" font-size="38.1" stroke="#000" stroke-width="0.6">)</text>
</g>
</svg>
</body></html>
